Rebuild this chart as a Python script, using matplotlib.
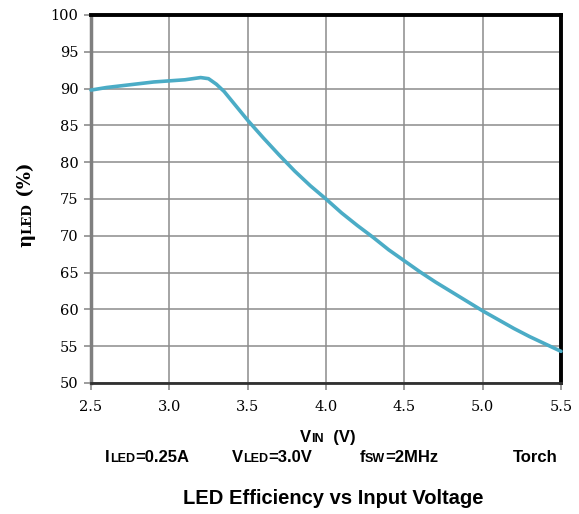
import matplotlib
matplotlib.use("Agg")
import matplotlib.pyplot as plt

vin = [2.5, 2.6, 2.7, 2.8, 2.9, 3.0, 3.1, 3.15, 3.2, 3.25, 3.3, 3.35, 3.4, 3.45,
       3.5, 3.6, 3.7, 3.8, 3.9, 4.0, 4.1, 4.2, 4.3, 4.4, 4.5, 4.6, 4.7, 4.8, 4.9,
       5.0, 5.1, 5.2, 5.3, 5.4, 5.5]
eff = [89.8, 90.15, 90.4, 90.65, 90.9, 91.05, 91.2, 91.35, 91.5, 91.35, 90.6, 89.6, 88.3, 87.0,
       85.7, 83.3, 81.0, 78.8, 76.8, 75.0, 73.1, 71.4, 69.8, 68.1, 66.6, 65.1, 63.7, 62.4, 61.1,
       59.8, 58.6, 57.4, 56.3, 55.3, 54.3]
xticks = [2.5, 3.0, 3.5, 4.0, 4.5, 5.0, 5.5]
xticklabels = ["2.5", "3.0", "3.5", "4.0", "4.5", "5.0", "5.5"]
yticks = [50, 55, 60, 65, 70, 75, 80, 85, 90, 95, 100]

W, H = 579, 514
fig = plt.figure(figsize=(W / 100, H / 100), dpi=100)
L, R, T, B = 91, 561, 15, 383
ax = fig.add_axes([L / W, 1 - B / H, (R - L) / W, (B - T) / H])

ax.plot(vin, eff, color="#4BACC6", lw=2.6, solid_capstyle="round", solid_joinstyle="round",
        zorder=3, clip_on=False)
ax.set_xlim(2.5, 5.5)
ax.set_ylim(50, 100)
ax.set_xticks(xticks)
ax.set_xticklabels(xticklabels)
ax.set_yticks(yticks)
ax.grid(True, color="#8c8c8c", lw=1.1)
ax.set_axisbelow(True)
for lab in ax.get_xticklabels() + ax.get_yticklabels():
    lab.set_family("DejaVu Serif")
    lab.set_fontsize(10.5)
ax.tick_params(axis="both", direction="out", length=5, width=1.2, color="#8c8c8c")
ax.tick_params(axis="x", pad=7)
ax.tick_params(axis="y", pad=4)
ax.spines["top"].set_color("black")
ax.spines["top"].set_linewidth(2.8)
ax.spines["right"].set_color("black")
ax.spines["right"].set_linewidth(2.8)
ax.spines["left"].set_color("#7f7f7f")
ax.spines["left"].set_linewidth(2.5)
ax.spines["bottom"].set_color("#303030")
ax.spines["bottom"].set_linewidth(2.0)

fig.canvas.draw()
renderer = fig.canvas.get_renderer()


def seg_text(segments, x, y, family, rotation=0, ha="center"):
    """segments: list of (text, size). x,y in pixel coords from top-left."""
    objs = []
    widths = []
    for txt, size in segments:
        t = fig.text(0, 0, txt, fontsize=size, family=family, fontweight="bold",
                     va="baseline", ha="left", rotation=rotation, rotation_mode="anchor")
        bb = t.get_window_extent(renderer)
        widths.append(bb.width if rotation == 0 else bb.height)
        objs.append(t)
    total = sum(widths)
    start = -total / 2 if ha == "center" else 0
    pos = start
    for t, w in zip(objs, widths):
        if rotation == 0:
            t.set_position(((x + pos) / W, 1 - y / H))
        else:
            t.set_position((x / W, 1 - (y - pos) / H))
        pos += w
    return objs


sans = "Liberation Sans"
seg_text([("V", 12), ("IN", 9), ("  (V)", 12)], 328, 442, sans)
seg_text([("I", 12), ("LED", 9), ("=0.25A", 12)], 147, 462, sans)
seg_text([("V", 12), ("LED", 9), ("=3.0V", 12)], 272, 462, sans)
seg_text([("f", 12), ("SW", 9), ("=2MHz", 12)], 399, 462, sans)
seg_text([("Torch", 12)], 535, 462, sans)
fig.text(333 / W, 1 - 498 / H, "LED Efficiency vs Input Voltage", fontsize=14.5,
         family=sans, fontweight="bold", ha="center", va="center")
seg_text([("\u03b7", 13), ("LED", 9.5), (" (%)", 13)], 31, 205, "DejaVu Serif", rotation=90)

fig.savefig("out.png", dpi=100)
